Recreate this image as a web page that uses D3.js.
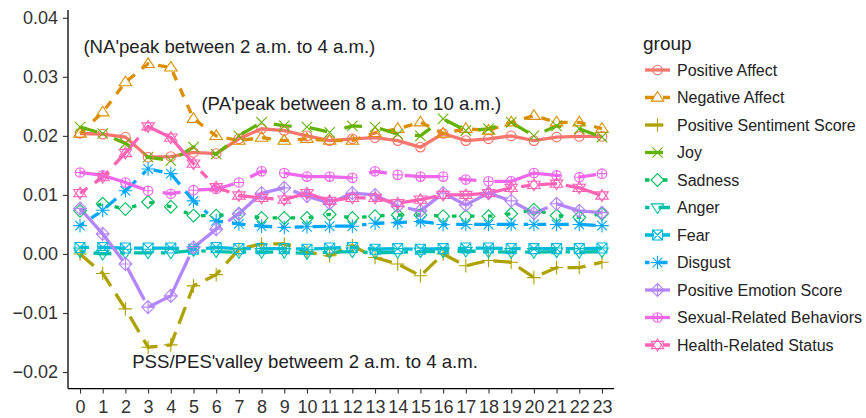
<!DOCTYPE html>
<html><head><meta charset="utf-8">
<script src="https://cdn.jsdelivr.net/npm/d3@7/dist/d3.min.js"></script>
<style>body{margin:0;background:#fff}svg{display:block}</style>
</head><body>
<svg id="c" width="866" height="418"></svg>
<script>
const hours = d3.range(0, 24);
const xTickLabels = hours.map(String);
const yTicks = [-0.02, -0.01, 0.00, 0.01, 0.02, 0.03, 0.04];
const groupNames = ["Positive Affect","Negative Affect","Positive Sentiment Score","Joy","Sadness","Anger","Fear","Disgust","Positive Emotion Score","Sexual-Related Behaviors","Health-Related Status"];

const positiveAffect = [0.0204,0.0203,0.0198,0.0164,0.0165,0.0172,0.0170,0.0195,0.0212,0.0209,0.0200,0.0192,0.0195,0.0197,0.0192,0.0181,0.0204,0.0192,0.0195,0.0200,0.0192,0.0198,0.0199,0.0199];
const negativeAffect = [0.0204,0.0240,0.0291,0.0322,0.0316,0.0229,0.0200,0.0192,0.0197,0.0192,0.0195,0.0192,0.0192,0.0205,0.0212,0.0223,0.0204,0.0212,0.0209,0.0223,0.0234,0.0223,0.0223,0.0212];
const positiveSentiment = [0.0000,-0.0033,-0.0093,-0.0158,-0.0154,-0.0054,-0.0035,0.0008,0.0017,0.0017,0.0003,-0.0003,0.0014,-0.0006,-0.0017,-0.0037,0.0000,-0.0020,-0.0011,-0.0014,-0.0040,-0.0023,-0.0023,-0.0014];
const joy = [0.0215,0.0204,0.0187,0.0164,0.0158,0.0181,0.0169,0.0200,0.0223,0.0217,0.0215,0.0206,0.0217,0.0215,0.0203,0.0200,0.0229,0.0209,0.0212,0.0223,0.0200,0.0217,0.0212,0.0198];
const sadness = [0.0073,0.0085,0.0076,0.0088,0.0080,0.0065,0.0065,0.0068,0.0061,0.0061,0.0061,0.0067,0.0061,0.0064,0.0066,0.0066,0.0064,0.0064,0.0064,0.0068,0.0075,0.0065,0.0062,0.0068];
const anger = [0.0004,0.0000,0.0002,0.0002,0.0002,0.0006,0.0004,0.0003,0.0003,0.0003,0.0001,0.0003,0.0004,0.0002,0.0003,0.0004,0.0004,0.0005,0.0004,0.0003,0.0003,0.0004,0.0003,0.0004];
const fear = [0.0011,0.0011,0.0010,0.0010,0.0010,0.0008,0.0011,0.0009,0.0009,0.0009,0.0008,0.0010,0.0011,0.0008,0.0009,0.0008,0.0009,0.0010,0.0010,0.0009,0.0009,0.0009,0.0009,0.0010];
const disgust = [0.0048,0.0074,0.0107,0.0144,0.0136,0.0090,0.0056,0.0051,0.0047,0.0045,0.0046,0.0047,0.0047,0.0052,0.0053,0.0055,0.0050,0.0050,0.0050,0.0050,0.0050,0.0050,0.0050,0.0048];
const positiveEmotion = [0.0077,0.0034,-0.0017,-0.0090,-0.0071,0.0011,0.0042,0.0068,0.0103,0.0112,0.0098,0.0086,0.0103,0.0100,0.0081,0.0073,0.0103,0.0083,0.0103,0.0090,0.0069,0.0085,0.0073,0.0070];
const sexualBehaviors = [0.0138,0.0133,0.0121,0.0107,0.0102,0.0108,0.0110,0.0121,0.0140,0.0137,0.0131,0.0131,0.0129,0.0140,0.0134,0.0131,0.0131,0.0126,0.0123,0.0123,0.0137,0.0133,0.0130,0.0136];
const healthStatus = [0.0103,0.0130,0.0171,0.0216,0.0197,0.0153,0.0113,0.0099,0.0095,0.0092,0.0103,0.0090,0.0095,0.0095,0.0086,0.0092,0.0100,0.0100,0.0103,0.0112,0.0117,0.0119,0.0112,0.0099];

const annotations = [
  {text: "(NA'peak between 2 a.m. to 4 a.m.)", hx: 0.15, v: 0.0341},
  {text: "(PA'peak between 8 a.m. to 10 a.m.)", hx: 5.35, v: 0.0243},
  {text: "PSS/PES'valley betweem 2 a.m. to 4 a.m.", hx: 2.3, v: -0.0193}
];

const seriesValues = [positiveAffect,negativeAffect,positiveSentiment,joy,sadness,anger,fear,disgust,positiveEmotion,sexualBehaviors,healthStatus];
const colors = ["#F8766D","#DB8E00","#AEA200","#64B200","#00BD5C","#00C1A7","#00BADE","#00A6FF","#B385FF","#EF67EB","#FF63B6"];
const ltys = ["", "22", "42", "44", "13", "1242", "2262", "12223242", "F282", "F4448444", "224282F2"];
const shapes = ["circle","triUp","plus","cross","diamond","triDown","squareX","asterisk","diamondPlus","circlePlus","star"];

const LW = 3.3, DU = 4.5;
function dash(l){ if(!l) return null; return l.split("").map(c=>parseInt(c,16)*DU).join(","); }

function shapePath(t){
  const s = 6.3;
  const tri = (dir)=>{ const h=s*0.95; return `M0,${-dir*h}L${s},${dir*h*0.6}L${-s},${dir*h*0.6}Z`; };
  const circ = (r)=>`M${-r},0A${r},${r} 0 1,0 ${r},0A${r},${r} 0 1,0 ${-r},0Z`;
  const plus = (r)=>`M${-r},0H${r}M0,${-r}V${r}`;
  const cross = (r)=>`M${-r},${-r}L${r},${r}M${-r},${r}L${r},${-r}`;
  const dia = (r)=>`M0,${-r}L${r},0L0,${r}L${-r},0Z`;
  switch(t){
    case "circle": return circ(4.8);
    case "triUp": return tri(1);
    case "plus": return plus(6.8);
    case "cross": return cross(5.2);
    case "diamond": return dia(6.4);
    case "triDown": return tri(-1);
    case "squareX": return `M-5,-5H5V5H-5Z` + cross(5);
    case "asterisk": return plus(6.8) + cross(4.8);
    case "diamondPlus": return dia(6.5) + plus(6.5);
    case "circlePlus": return circ(4.8) + plus(4.8);
    case "star": return tri(1) + tri(-1);
  }
}

const svg = d3.select("#c");
const x = d3.scaleLinear().domain([-0.53, 23.53]).range([68, 614]);
const y = d3.scaleLinear().domain([-0.0228, 0.0413]).range([388.6, 10.1]);
const FONT = "'Liberation Sans', Arial, sans-serif";

// axes
const xAxis = svg.append("g").attr("transform","translate(0,388.6)")
  .call(d3.axisBottom(x).tickValues(hours).tickFormat((d,i)=>xTickLabels[i]).tickSizeOuter(0).tickSize(5));
const yAxis = svg.append("g").attr("transform","translate(68,0)")
  .call(d3.axisLeft(y).tickValues(yTicks).tickFormat(d3.format(".2f")).tickSizeOuter(0).tickSize(5));
[xAxis,yAxis].forEach(a=>{
  a.select(".domain").attr("stroke","#000").attr("stroke-width",1.3);
  a.selectAll(".tick line").attr("stroke","#333").attr("stroke-width",1.1);
  a.selectAll("text").attr("fill","#333").attr("font-family",FONT).attr("font-size","18px");
});
xAxis.selectAll("text").attr("dy","0.95em").attr("y",7.5);
yAxis.selectAll("text").attr("x",-10);
xAxis.select(".domain").attr("d", `M68,0H614`);
yAxis.select(".domain").attr("d", `M0,10.1V388.6`);

// lines
const line = d3.line().x((d,i)=>x(hours[i])).y(d=>y(d));
const plot = svg.append("g");
seriesValues.forEach((vals,k)=>{
  plot.append("path").attr("d", line(vals)).attr("fill","none")
    .attr("stroke", colors[k]).attr("stroke-width", LW)
    .attr("stroke-dasharray", dash(ltys[k]));
});
seriesValues.forEach((vals,k)=>{
  plot.append("g").selectAll("path").data(vals).join("path")
    .attr("transform",(d,i)=>`translate(${x(hours[i])},${y(d)})`)
    .attr("d", shapePath(shapes[k])).attr("fill","none")
    .attr("stroke", colors[k]).attr("stroke-width",1.1);
});

// annotations
annotations.forEach(a=>{
  svg.append("text").attr("x", x(a.hx)).attr("y", y(a.v)).attr("font-family",FONT)
    .attr("font-size","18.6px").attr("fill","#222").text(a.text);
});

// legend
const lg = svg.append("g").attr("transform","translate(643,0)");
lg.append("text").attr("x",0).attr("y",50).attr("font-family",FONT).attr("font-size","19px").attr("fill","#222").text("group");
groupNames.forEach((name,k)=>{
  const cy = 70 + k*27.5;
  const g = lg.append("g").attr("transform",`translate(0,${cy})`);
  g.append("line").attr("x1",2).attr("x2",27).attr("y1",0).attr("y2",0)
    .attr("stroke",colors[k]).attr("stroke-width",LW).attr("stroke-dasharray",dash(ltys[k]));
  g.append("path").attr("transform","translate(14.5,0)").attr("d",shapePath(shapes[k]))
    .attr("fill","none").attr("stroke",colors[k]).attr("stroke-width",1.1);
  g.append("text").attr("x",34).attr("y",0).attr("dy","0.35em").attr("font-family",FONT)
    .attr("font-size","16px").attr("fill","#222").text(name);
});
</script>
</body></html>
